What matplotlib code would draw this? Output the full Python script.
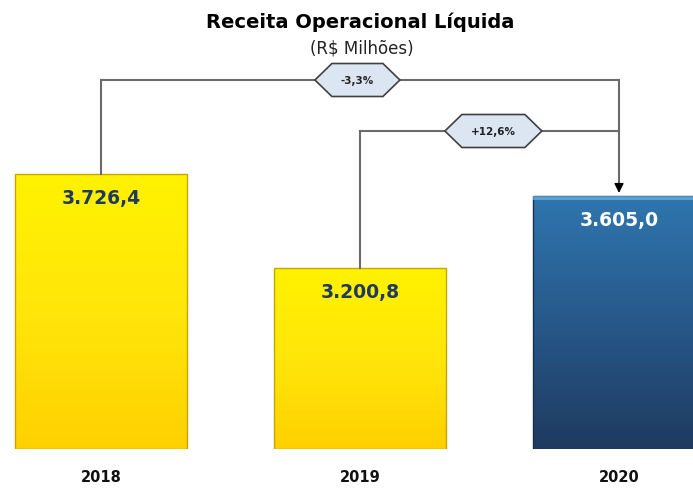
import numpy as np
import matplotlib
matplotlib.use("Agg")
import matplotlib.pyplot as plt
from matplotlib.patches import Polygon
from matplotlib.colors import LinearSegmentedColormap
import matplotlib.transforms as mtransforms

years = ["2018", "2019", "2020"]
values = [3726.4, 3200.8, 3605.0]
value_labels = ["3.726,4", "3.200,8", "3.605,0"]
changes = ["-3,3%", "+12,6%"]

title = "Receita Operacional Líquida"
subtitle = "(R$ Milhões)"

fig = plt.figure(figsize=(6.93, 4.89), dpi=100)
ax = fig.add_axes([0, 39 / 489, 1, 450 / 489])
ax.set_xlim(-101 / 259, 592 / 259)
ax.set_ylim(2189, 4705)
ax.axis("off")

x = np.arange(len(years))
bar_w = 172 / 259

yellow = LinearSegmentedColormap.from_list("yl", ["#FFD000", "#FFE60A", "#FFF200"])
blue = LinearSegmentedColormap.from_list("bl", ["#1F3A60", "#27588A", "#2F76AF"])
cmaps = [yellow, yellow, blue]
edges = ["#C4A600", "#C4A600", "#1B2F4D"]
text_colors = ["#1F3A5F", "#1F3A5F", "white"]

bars = ax.bar(x, np.array(values) - 2189, bottom=2189, width=bar_w,
              facecolor="none", edgecolor="none")
grad = np.linspace(0, 1, 256).reshape(-1, 1)
for i, b in enumerate(bars):
    x0, y0 = b.get_x(), b.get_y()
    w, h = b.get_width(), b.get_height()
    im = ax.imshow(grad, cmap=cmaps[i], aspect="auto", origin="lower",
                   extent=[x0, x0 + w, y0, y0 + h], zorder=2)
    im.set_clip_path(b)
    ax.add_patch(plt.Rectangle((x0, y0), w, h, fill=False, edgecolor=edges[i],
                               lw=1.0, zorder=3))
    # light bevel at the top of the blue bar
    if i == 2:
        ax.add_patch(plt.Rectangle((x0, y0 + h - 25), w, 25, facecolor="#6FB3E6",
                                   edgecolor="none", alpha=0.7, zorder=3))
    ax.annotate(value_labels[i], (x[i], values[i]), xytext=(0, -17),
                textcoords="offset points", ha="center", va="center",
                fontsize=13.5, fontweight="bold", color=text_colors[i], zorder=5)
    ax.text(x[i], -28 / 450, years[i], transform=mtransforms.blended_transform_factory(ax.transData, ax.transAxes),
            ha="center", va="center", fontsize=10.5, fontweight="bold",
            color="#111111", clip_on=False)

trans = mtransforms.blended_transform_factory(ax.transData, ax.transAxes)
line_col = "#6A6A6A"
y1 = (450 - 81) / 450
y2 = (450 - 132) / 450

def top_frac(v):
    return (v - 2189) / (4705 - 2189)

# connector 2018 -> 2020
ax.plot([0, 0, 2, 2], [top_frac(values[0]), y1, y1, top_frac(values[2]) + 12 / 450],
        color=line_col, lw=1.5, transform=trans, zorder=4, solid_joinstyle="miter")
# connector 2019 -> 2020
ax.plot([1, 1, 2], [top_frac(values[1]), y2, y2],
        color=line_col, lw=1.5, transform=trans, zorder=4, solid_joinstyle="miter")
ax.annotate("", xy=(2, top_frac(values[2])), xytext=(2, top_frac(values[2]) + 13 / 450),
            xycoords=trans, textcoords=trans,
            arrowprops=dict(arrowstyle="-|>", color="black", lw=1, mutation_scale=14),
            zorder=6)


def hexagon(cx, cy, half_w, label):
    ix = 17 / 259
    hw = half_w / 259
    hh = 16.5 / 450
    pts = [(cx - hw, cy), (cx - hw + ix, cy + hh), (cx + hw - ix, cy + hh),
           (cx + hw, cy), (cx + hw - ix, cy - hh), (cx - hw + ix, cy - hh)]
    ax.add_patch(Polygon(pts, closed=True, facecolor="#DCE6F2", edgecolor="#404040",
                         lw=1.2, transform=trans, zorder=7))
    ax.text(cx, cy, label, transform=trans, ha="center", va="center",
            fontsize=7.5, fontweight="bold", color="#222222", zorder=8)


hexagon(0.99, y1, 42.5, changes[0])
hexagon(1.515, y2, 48.5, changes[1])

fig.text(360 / 693, 1 - 22 / 489, title, ha="center", va="center",
         fontsize=14, fontweight="bold", color="black")
fig.text(362 / 693, 1 - 48 / 489, subtitle, ha="center", va="center",
         fontsize=12, color="#222222")

fig.savefig("out.png", dpi=100)
